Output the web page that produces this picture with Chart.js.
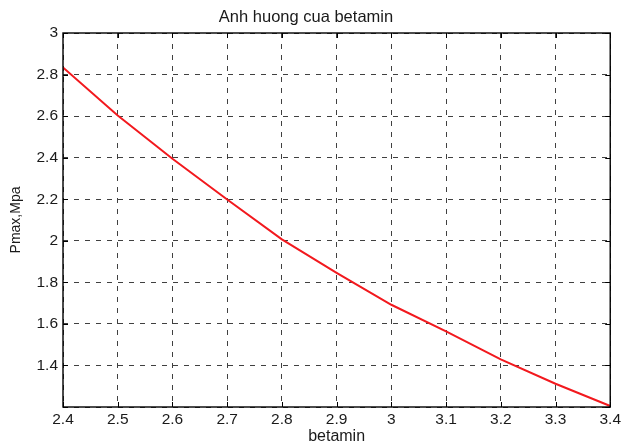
<!DOCTYPE html>
<html lang="en">
<head>
    <meta charset="UTF-8">
    <title>Anh huong cua betamin</title>
    <style>
        body {
            margin: 0;
            padding: 0;
            background: #fff;
        }
    </style>
    <script src="https://cdn.jsdelivr.net/npm/chart.js@4/dist/chart.umd.min.js"></script>
</head>
<body>
<canvas id="chart" width="624" height="445"></canvas>
<script>
    // values
    var betamin = [2.4, 2.5, 2.6, 2.7, 2.8, 2.9, 3.0, 3.1, 3.2, 3.3, 3.4];
    var pmax = [2.834, 2.603, 2.395, 2.199, 2.007, 1.846, 1.692, 1.564, 1.429, 1.312, 1.205];
    var xTicks = [2.4, 2.5, 2.6, 2.7, 2.8, 2.9, 3.0, 3.1, 3.2, 3.3, 3.4];
    var yTicks = [1.2, 1.4, 1.6, 1.8, 2.0, 2.2, 2.4, 2.6, 2.8, 3.0];

    var fontName = '"Liberation Sans", Arial, sans-serif';

    function fmt(v) {
        return String(+v.toFixed(1));
    }

    // matlab-like box with inward ticks
    var boxPlugin = {
        id: 'box',
        afterDraw: function(chart) {
            var a = chart.chartArea, ctx = chart.ctx;
            var xs = chart.scales.x, ys = chart.scales.y;
            ctx.save();
            ctx.strokeStyle = '#000';
            ctx.lineWidth = 1;
            ctx.setLineDash([]);
            ctx.beginPath();
            xTicks.forEach(function(v) {
                var px = Math.round(xs.getPixelForValue(v)) + 0.5;
                ctx.moveTo(px, a.bottom); ctx.lineTo(px, a.bottom - 5);
                ctx.moveTo(px, a.top); ctx.lineTo(px, a.top + 5);
            });
            yTicks.forEach(function(v) {
                var py = Math.round(ys.getPixelForValue(v)) + 0.5;
                ctx.moveTo(a.left, py); ctx.lineTo(a.left + 5, py);
                ctx.moveTo(a.right, py); ctx.lineTo(a.right - 5, py);
            });
            ctx.stroke();
            ctx.lineWidth = 1.4;
            ctx.strokeRect(a.left, a.top, a.right - a.left, a.bottom - a.top);
            ctx.restore();
        }
    };

    var config = {
        type: 'line',
        data: {
            datasets: [{
                data: betamin.map(function(x, i) { return {x: x, y: pmax[i]}; }),
                borderColor: '#f2191e',
                borderWidth: 2,
                pointRadius: 0,
                tension: 0,
                fill: false
            }]
        },
        options: {
            responsive: false,
            animation: false,
            devicePixelRatio: 1,
            layout: { padding: { left: 0, right: 12, top: 0, bottom: 0 } },
            plugins: {
                legend: { display: false },
                tooltip: { enabled: false },
                title: {
                    display: true,
                    text: 'Anh huong cua betamin',
                    color: '#1a1a1a',
                    font: { family: fontName, size: 16.5, weight: 'normal', lineHeight: 1.2 },
                    padding: { top: 8, bottom: 5.2 }
                }
            },
            scales: {
                x: {
                    type: 'linear',
                    min: 2.4,
                    max: 3.4,
                    afterBuildTicks: function(s) { s.ticks = xTicks.map(function(v) { return {value: v}; }); },
                    afterFit: function(s) { s.height = 38; },
                    ticks: {
                        callback: fmt,
                        color: '#1a1a1a',
                        padding: 3,
                        maxRotation: 0,
                        autoSkip: false,
                        font: { family: fontName, size: 15.5 }
                    },
                    grid: { color: '#404040', lineWidth: 1, drawTicks: false },
                    border: { display: false, dash: [5, 6] },
                    title: {
                        display: true,
                        text: 'betamin',
                        color: '#1a1a1a',
                        font: { family: fontName, size: 16, lineHeight: 1 },
                        padding: { top: 0, bottom: 0 }
                    }
                },
                y: {
                    type: 'linear',
                    min: 1.2,
                    max: 3,
                    afterBuildTicks: function(s) { s.ticks = yTicks.map(function(v) { return {value: v}; }); },
                    afterFit: function(s) { s.width = 63; },
                    ticks: {
                        callback: function(v) { return v < 1.3 ? '' : fmt(v); },
                        color: '#1a1a1a',
                        padding: 5,
                        font: { family: fontName, size: 15.5 }
                    },
                    grid: { color: '#404040', lineWidth: 1, drawTicks: false },
                    border: { display: false, dash: [5, 6] },
                    title: {
                        display: true,
                        text: 'Pmax,Mpa',
                        color: '#1a1a1a',
                        font: { family: fontName, size: 14, lineHeight: 1 },
                        padding: { top: 9, bottom: 0 }
                    }
                }
            }
        },
        plugins: [boxPlugin]
    };

    new Chart(document.getElementById('chart'), config);
</script>
</body>
</html>
